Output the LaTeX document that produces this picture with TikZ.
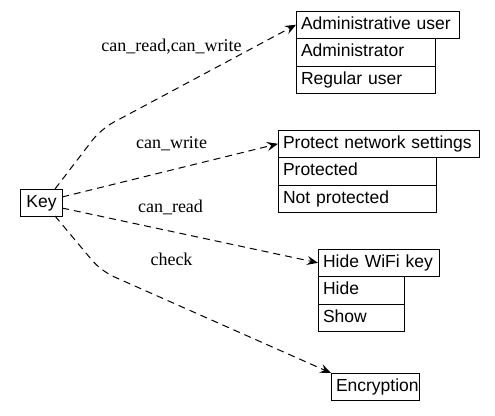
\documentclass[tikz,border=0pt]{standalone}
\usepackage{fontspec}
\setmainfont{Liberation Serif}
\setsansfont{Liberation Sans}
\usetikzlibrary{arrows.meta}
\begin{document}
\begin{tikzpicture}[x=1pt,y=-1pt,
  cell/.style={draw, line width=1pt, anchor=north west, outer sep=0pt, inner xsep=5pt, inner ysep=0pt,
    minimum height=27.6pt, align=left, text height=12.5pt, text depth=3.5pt,
    font=\sffamily\fontsize{17.5}{20}\selectfont},
  lbl/.style={font=\rmfamily\fontsize{18}{21}\selectfont, inner sep=0pt},
  edge/.style={line width=1pt, dash pattern=on 7pt off 5pt,
    -{Stealth[length=11pt,width=9pt,inset=4pt]}}]
\useasboundingbox (0,0) rectangle (495,415);
% nodes
\node[cell, anchor=center, inner xsep=5.5pt, minimum height=27pt] (key) at (41.5,202.5) {Key};
\node[cell, text width=153pt] (adminh) at (296,11) {Administrative user};
\node[cell, text width=129pt] (admin1) at (adminh.south west) {Administrator};
\node[cell, text width=129pt] (admin2) at (admin1.south west) {Regular user};
\node[cell, text width=191pt] (protecth) at (278,130) {Protect network settings};
\node[cell, text width=148pt] (protect1) at (protecth.south west) {Protected};
\node[cell, text width=148pt] (protect2) at (protect1.south west) {Not protected};
\node[cell, text width=111pt] (hideh) at (318,249) {Hide WiFi key};
\node[cell, text width=76pt] (hide1) at (hideh.south west) {Hide};
\node[cell, text width=76pt] (hide2) at (hide1.south west) {Show};
\node[cell, text width=78pt] (encr) at (331,373) {Encryption};
% labels
\node[lbl] (l1) at (171.5,47) {can\_read,can\_write};
\node[lbl] (l2) at (171.5,144) {can\_write};
\node[lbl] (l3) at (170.5,207.5) {can\_read};
\node[lbl] (l4) at (171.5,259.5) {check};
% bends
\coordinate (b1) at (101,129);
\coordinate (b4) at (101,271);
% edges
\draw[edge, rounded corners=14pt] (key.45) -- (b1) -- (adminh.west);
\draw[edge] (key.15) -- (protecth.west);
\draw[edge] (key.-15) -- (hideh.west);
\draw[edge, rounded corners=14pt] (key.-45) -- (b4) -- (encr.north west);
\end{tikzpicture}
\end{document}
